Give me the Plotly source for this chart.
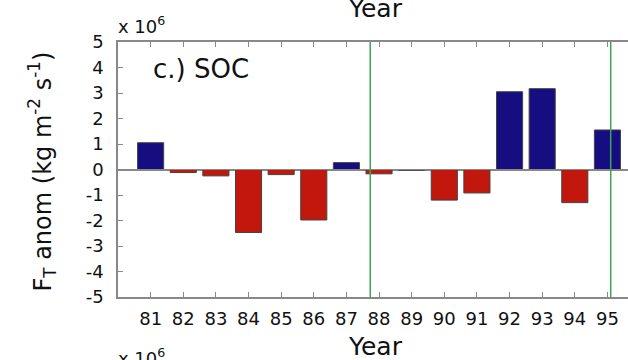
import plotly.graph_objects as go

years = [81, 82, 83, 84, 85, 86, 87, 88, 89, 90, 91, 92, 93, 94, 95]
anom = [1.05, -0.12, -0.25, -2.47, -0.2, -1.98, 0.27, -0.17, -0.03, -1.2, -0.92, 3.05, 3.17, -1.3, 1.55]
year_labels = [str(y) for y in years]
event_lines = [87.73, 95.1]
y_ticks = [5, 4, 3, 2, 1, 0, -1, -2, -3, -4, -5]
y_labels = ["5", "4", "3", "2", "1", "0", "-1", "-2", "-3", "-4", "-5"]

BLUE = "#150d80"
RED = "#c2170c"
colors = [BLUE if v >= 0 else RED for v in anom]

fig = go.Figure()
fig.add_trace(go.Bar(
    x=years, y=anom, width=0.8,
    marker=dict(color=colors, line=dict(color="#444444", width=1)),
    showlegend=False,
))
fig.add_trace(go.Scatter(x=[80, 95.63], y=[0, 0], xaxis="x2", mode="lines",
                         line=dict(color="#888888", width=1), showlegend=False, hoverinfo="skip"))
for xv in event_lines:
    fig.add_shape(type="line", x0=xv, x1=xv, y0=0, y1=1, xref="x", yref="paper",
                  line=dict(color="#3aa655", width=1.5))

font = "DejaVu Sans, Verdana, sans-serif"
ink = "#111111"
fig.update_layout(
    width=628, height=360,
    margin=dict(l=118, r=0, t=42, b=63),
    plot_bgcolor="white", paper_bgcolor="white",
    font=dict(family=font, color=ink),
    xaxis=dict(range=[80, 95.63], tickvals=years, ticktext=year_labels,
               ticks="inside", ticklen=5, tickcolor="#888888",
               showline=True, linecolor="#888888", linewidth=1.5,
               ticklabelstandoff=5,
               showgrid=False, zeroline=False, tickfont=dict(size=18, family=font, color=ink)),
    xaxis2=dict(range=[80, 95.63], overlaying="x", side="top", tickvals=years,
                showticklabels=False, ticks="inside", ticklen=5, tickcolor="#888888",
                showline=True, linecolor="#888888", linewidth=1.5,
                showgrid=False, zeroline=False),
    yaxis=dict(range=[-5, 5], tickvals=y_ticks, ticktext=y_labels, ticks="inside", ticklen=5,
               tickcolor="#888888", showline=True, linecolor="#888888", linewidth=1.5,
               showgrid=False, zeroline=True, zerolinecolor="#888888", zerolinewidth=1.5,
               ticklabelstandoff=9,
               tickfont=dict(size=18, family=font, color=ink)),
    bargap=0.2,
)

fig.add_annotation(text="F<sub>T</sub> anom (kg m<sup>-2</sup> s<sup>-1</sup>)", textangle=-90,
                   xref="paper", yref="paper", x=-0.150, y=0.49, xanchor="center", yanchor="middle",
                   showarrow=False, font=dict(size=24, family=font, color=ink))
fig.add_annotation(text="c.) SOC", xref="x", yref="y", x=81.0, y=3.95, xanchor="left", yanchor="middle",
                   showarrow=False, font=dict(size=26, family=font, color=ink))
fig.add_annotation(text="x 10<sup>6</sup>", xref="paper", yref="paper", x=-0.003, y=1.0, yshift=3,
                   xanchor="left", yanchor="bottom", showarrow=False,
                   font=dict(size=18, family=font, color=ink))
fig.add_annotation(text="Year", xref="x", yref="paper", x=87.9, y=1, yshift=34,
                   xanchor="center", yanchor="middle", showarrow=False,
                   font=dict(size=25, family=font, color=ink))
fig.add_annotation(text="Year", xref="x", yref="paper", x=87.9, y=0, yshift=-49,
                   xanchor="center", yanchor="middle", showarrow=False,
                   font=dict(size=25, family=font, color=ink))
fig.add_annotation(text="x 10<sup>6</sup>", xref="paper", yref="paper", x=-0.003, y=0, yshift=-74,
                   xanchor="left", yanchor="bottom", showarrow=False,
                   font=dict(size=18, family=font, color=ink))

fig.write_html("out.html")
